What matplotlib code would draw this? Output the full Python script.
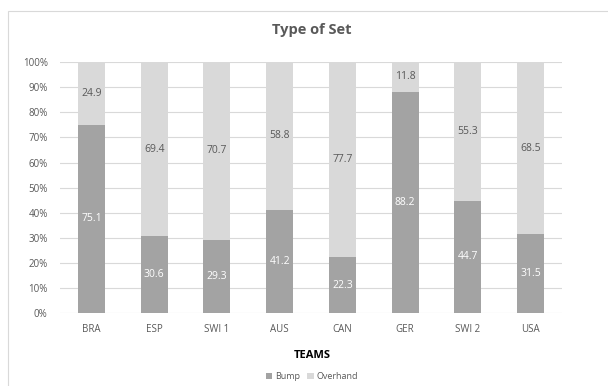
import matplotlib.pyplot as plt
import matplotlib.patches as patches

teams = ['BRA', 'ESP', 'SWI 1', 'AUS', 'CAN', 'GER', 'SWI 2', 'USA']
bump = [75.1, 30.6, 29.3, 41.2, 22.3, 88.2, 44.7, 31.5]
overhand = [24.9, 69.4, 70.7, 58.8, 77.7, 11.8, 55.3, 68.5]

bump_color = '#a3a3a3'
over_color = '#d9d9d9'
text_grey = '#595959'

plt.rcParams['font.family'] = ['Open Sans', 'DejaVu Sans']

fig = plt.figure(figsize=(6.08, 3.86), dpi=100)
ax = fig.add_axes([0.099, 0.189, 0.825, 0.650])

# chart frame
fig.patches.append(patches.Rectangle((0.013, -0.01), 1.0, 0.982, transform=fig.transFigure,
                                     fill=False, edgecolor='#d9d9d9', linewidth=0.8))

x = range(len(teams))
b1 = ax.bar(x, bump, width=0.43, color=bump_color, zorder=2, label='Bump')
b2 = ax.bar(x, overhand, width=0.43, bottom=bump, color=over_color, zorder=2, label='Overhand')

# value labels in the middle of each segment
for i in x:
    ax.text(i, bump[i] / 2, '%.1f' % bump[i], ha='center', va='center',
            color='white', fontsize=7.5, zorder=3)
    ax.text(i, bump[i] + overhand[i] / 2, '%.1f' % overhand[i], ha='center', va='center',
            color=text_grey, fontsize=7.5, zorder=3)

ax.set_xlim(-0.5, len(teams) - 0.5)
ax.set_ylim(0, 100)
ax.set_yticks(range(0, 101, 10))
ax.set_yticklabels(['%d%%' % v for v in range(0, 101, 10)])
ax.set_xticks(list(x))
ax.set_xticklabels(teams)
ax.tick_params(length=0, labelsize=7, colors=text_grey, pad=8)
ax.tick_params(axis='y', pad=9)
ax.grid(axis='y', color='#d9d9d9', linewidth=0.8, zorder=0)
for s in ax.spines.values():
    s.set_visible(False)

fig.text(0.513, 0.922, 'Type of Set', ha='center', va='center', fontsize=10.5,
         fontweight='bold', color=text_grey)
fig.text(0.513, 0.08, 'TEAMS', ha='center', va='center', fontsize=8,
         fontweight='bold', color='black')

leg = ax.legend(handles=[b1, b2], loc='center', ncol=2, frameon=False, fontsize=6.5,
                labelcolor=text_grey, handlelength=0.7, handleheight=0.7,
                handletextpad=0.3, columnspacing=0.8)
leg.set_bbox_to_anchor((0.513, 0.024), transform=fig.transFigure)

fig.savefig('out.png', dpi=100)
